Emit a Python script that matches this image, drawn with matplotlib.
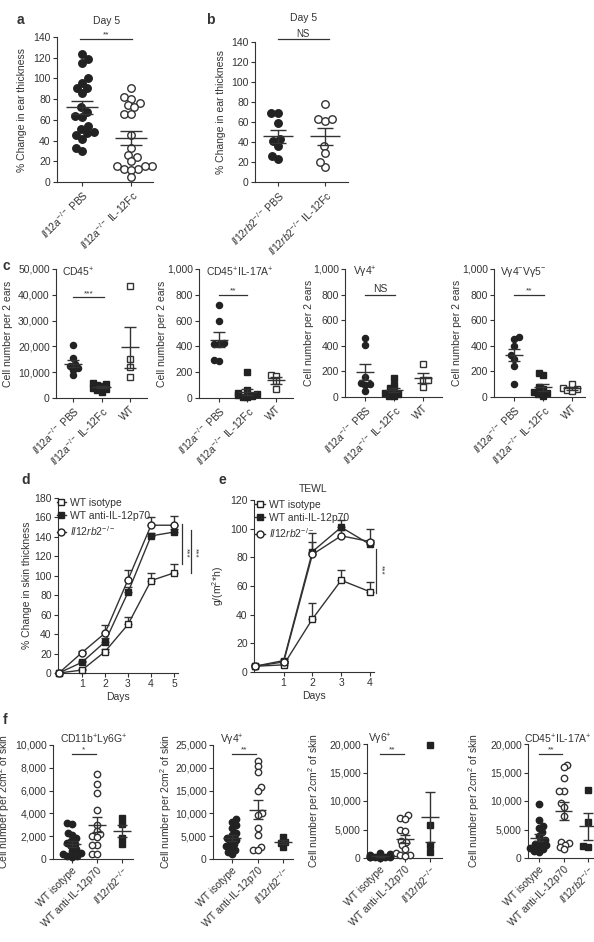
import numpy as np
import matplotlib
matplotlib.use("Agg")
import matplotlib.pyplot as plt
from matplotlib.ticker import StrMethodFormatter

W, H = 594, 942
INK = "#333333"
DOT = "#222222"
FS = 7.5

plt.rcParams["font.family"] = ["Liberation Sans", "DejaVu Sans"]
plt.rcParams["mathtext.fontset"] = "custom"
plt.rcParams["mathtext.rm"] = "Liberation Sans"
plt.rcParams["mathtext.it"] = "Liberation Sans:italic"
plt.rcParams["mathtext.bf"] = "Liberation Sans:bold"
plt.rcParams["text.color"] = INK
plt.rcParams["axes.labelcolor"] = INK
plt.rcParams["font.size"] = FS

# ---------------- data ----------------
# a: % change in ear thickness, day 5
a_labels = [r"$\mathit{Il12a}^{-/-}$ PBS", r"$\mathit{Il12a}^{-/-}$ IL-12Fc"]
a_pbs = [124, 119, 115, 100, 96, 91, 91, 86, 72, 68, 64, 63, 54, 51, 48, 47, 45, 42, 33, 30]
a_fc = [91, 82, 80, 76, 74, 72, 66, 66, 45, 33, 26, 24, 20, 15, 15, 15, 13, 13, 12, 5]

# b
b_labels = [r"$\mathit{Il12rb2}^{-/-}$ PBS", r"$\mathit{Il12rb2}^{-/-}$ IL-12Fc"]
b_pbs = [69, 69, 59, 43, 41, 36, 26, 23]
b_fc = [78, 63, 61, 63, 36, 29, 15, 20]

# c: cell number per 2 ears
c_labels = [r"$\mathit{Il12a}^{-/-}$ PBS", r"$\mathit{Il12a}^{-/-}$ IL-12Fc", "WT"]
c_cd45 = [[20500, 15500, 13000, 12500, 11500, 11000, 9000],
          [6000, 5500, 5000, 4500, 4000, 3500, 3000, 2500],
          [43300, 15000, 12000, 8000]]
c_il17 = [[724, 594, 424, 418, 418, 289, 294],
          [200, 60, 40, 30, 20, 15, 10, 10],
          [175, 170, 130, 70]]
c_vg4 = [[460, 410, 160, 110, 100, 90, 50],
         [150, 95, 70, 50, 30, 20, 10, 5],
         [260, 130, 130, 80]]
c_vg4n5n = [[455, 465, 400, 330, 300, 240, 100],
            [190, 170, 80, 60, 40, 30, 20, 10],
            [100, 70, 60, 55, 50]]

# d: % change in skin thickness over days
d_days = [0, 1, 2, 3, 4, 5]
d_iso = [0, 3, 22, 50, 95, 103]
d_iso_err = [0, 1.5, 3, 8, 8, 9]
d_anti = [0, 11, 32, 83, 141, 145]
d_anti_err = [0, 1.5, 4, 5, 3, 3]
d_rb2 = [0, 21, 41, 96, 152, 152]
d_rb2_err = [0, 2, 8, 10, 8, 9]

# e: TEWL
e_days = [0, 1, 2, 3, 4]
e_iso = [4, 5, 37, 64, 56]
e_iso_err = [1, 1, 11, 7, 6.5]
e_anti = [4, 8, 84, 101, 89]
e_anti_err = [1, 1, 7, 5, 3]
e_rb2 = [4, 7, 82, 95, 91]
e_rb2_err = [1, 1, 15, 4, 9]

leg_labels = ["WT isotype", "WT anti-IL-12p70", r"$\mathit{Il12rb2}^{-/-}$"]

# f: cell number per 2 cm2 of skin
f_labels = ["WT isotype", "WT anti-IL-12p70", r"$\mathit{Il12rb2}^{-/-}$"]
f_cd11b = [[3200, 3100, 2300, 2100, 1800, 1600, 1400, 1300, 1100, 900, 700, 500, 400, 300, 300, 200],
           [7500, 6600, 5800, 4300, 3000, 2500, 2200, 2000, 1900, 1200, 1200, 400, 400],
           [3600, 3100, 1800, 1300]]
f_vg4 = [[8700, 8200, 7500, 6800, 5800, 5200, 4600, 4200, 3800, 3300, 2900, 2500, 2000, 1600, 1200],
         [21500, 20400, 19000, 15800, 15000, 10000, 9600, 6700, 5300, 2700, 2000, 1900],
         [4800, 3800, 3500, 2600]]
f_vg6 = [[900, 700, 500, 400, 300, 300, 200, 200, 100, 100, 100, 50],
         [7500, 7000, 6900, 5000, 4800, 3000, 2800, 2200, 1500, 800, 600, 500, 400],
         [19800, 5800, 2200, 1000]]
f_il17 = [[9400, 6700, 5700, 5200, 4500, 3800, 3200, 2800, 2500, 2200, 2000, 1800, 1500, 1300, 1100],
          [16400, 15900, 14000, 11800, 11800, 9700, 9000, 7300, 2800, 2600, 2300, 2000, 1500],
          [12000, 6300, 2100, 2000]]

# ---------------- helpers ----------------
fig = plt.figure(figsize=(W / 100, H / 100), dpi=100)


def axes_px(l, t, r, b):
    ax = fig.add_axes([l / W, 1 - b / H, (r - l) / W, (b - t) / H])
    for s in ["top", "right"]:
        ax.spines[s].set_visible(False)
    for s in ["left", "bottom"]:
        ax.spines[s].set_color(INK)
        ax.spines[s].set_linewidth(0.8)
    ax.tick_params(colors=INK, labelsize=FS, length=3, width=0.8, pad=1.5)
    ax._box = (l, t, r, b)
    return ax


def ylab(ax, text, xpx):
    # xpx = visual centre of the rotated label; the anchor is its right edge
    l, t, r, b = ax._box
    ax.set_ylabel(text, fontsize=FS)
    ax.yaxis.set_label_coords((xpx + 4.5 - l) / (r - l), 0.5)


def ftext(x, y, s, **kw):
    fig.text(x / W, 1 - y / H, s, **kw)


def swarm(ax, x0, vals, d, maxoff):
    p = ax.transData.transform(np.column_stack([np.full(len(vals), x0), vals]))
    ppu = ax.transData.transform([[1, 0]])[0, 0] - ax.transData.transform([[0, 0]])[0, 0]
    ys = p[:, 1]
    placed = []
    offs = np.zeros(len(vals))
    lim = maxoff * ppu
    for n, i in enumerate(np.argsort(ys)):
        y = ys[i]
        near = [(xo, yo) for xo, yo in placed if abs(yo - y) < d]
        cands = [0.0]
        for xo, yo in near:
            h = np.sqrt(d * d - (yo - y) ** 2)
            cands += [xo + h, xo - h]
        ok = [c for c in cands
              if all((c - xo) ** 2 + (y - yo) ** 2 >= d * d - 1e-6 for xo, yo in near)]
        sgn = 1 if n % 2 else -1
        best = min(ok, key=lambda c: (round(abs(c), 2), sgn * c))
        best = float(np.clip(best, -lim, lim))
        offs[i] = best
        placed.append((best, y))
    return offs / ppu


def dotplot(ax, groups, styles, ms, mean_w=0.65, cap_w=0.4, pack=0.85, maxoff=0.4):
    ppu = ax.transData.transform([[1, 0]])[0, 0] - ax.transData.transform([[0, 0]])[0, 0]
    for i, (vals, st) in enumerate(zip(groups, styles)):
        v = np.asarray(vals, float)
        off = swarm(ax, i, v, ms / 0.72 * pack, maxoff)
        if st == "fc":
            kw = dict(marker="o", mfc=DOT, mec=DOT)
        elif st == "oc":
            kw = dict(marker="o", mfc="white", mec=INK)
        elif st == "fs":
            kw = dict(marker="s", mfc=DOT, mec=DOT)
        else:
            kw = dict(marker="s", mfc="white", mec=INK)
        ax.plot(i + off, v, ls="none", ms=ms, mew=1.0, clip_on=False, zorder=3, **kw)
        m = v.mean()
        sem = v.std(ddof=1) / np.sqrt(len(v))
        ax.hlines(m, i - mean_w / 2, i + mean_w / 2, color=INK, lw=1.0, zorder=5)
        ax.errorbar(i, m, yerr=sem, fmt="none", ecolor=INK, elinewidth=1.0,
                    capsize=cap_w / 2 * ppu * 0.72, capthick=1.0, zorder=5)


def bracket(ax, x1, x2, y, s, fs=7):
    ax.plot([x1, x2], [y, y], color=INK, lw=0.9, clip_on=False)
    ax.annotate(s, ((x1 + x2) / 2, y), xytext=(0, 0.3), textcoords="offset points",
                ha="center", va="bottom", fontsize=fs, annotation_clip=False)


def cat_axes(box, c0, sp, labels, ylim, yticks, fmt=None):
    l, t, r, b = box
    ax = axes_px(l, t, r, b)
    ax.set_xlim((l - c0) / sp, (r - c0) / sp)
    ax.set_ylim(*ylim)
    ax.set_yticks(yticks)
    if fmt:
        ax.yaxis.set_major_formatter(StrMethodFormatter(fmt))
    ax.set_xticks(range(len(labels)))
    ax.set_xticklabels(labels, rotation=45, ha="right", rotation_mode="anchor", fontsize=FS)
    return ax


# ---------------- panel a ----------------
ax = cat_axes((57, 37, 153, 182), 82, 49, a_labels, (0, 140), range(0, 141, 20))
dotplot(ax, [a_pbs, a_fc], ["fc", "oc"], 5.4, mean_w=0.65, cap_w=0.43, pack=0.95, maxoff=0.5)
bracket(ax, -0.05, 1.02, 138, "**", fs=6)
ylab(ax, "% Change in ear thickness", 23)
ftext(107, 21, "Day 5", ha="center", va="center")

# ---------------- panel b ----------------
ax = cat_axes((255, 42, 348, 182), 278, 47, b_labels, (0, 140), range(0, 141, 20))
dotplot(ax, [b_pbs, b_fc], ["fc", "oc"], 5.4, mean_w=0.65, cap_w=0.36, pack=0.95, maxoff=0.5)
bracket(ax, 0.0, 1.08, 143, "NS")
ylab(ax, "% Change in ear thickness", 221)
ftext(304, 18, "Day 5", ha="center", va="center")

# ---------------- panel c ----------------
c_specs = [
    ((56, 269, 147, 398), 73, 28.5, c_cd45, (0, 50000), range(0, 50001, 10000), "CD45$^{+}$", 62, "***", 39000, 1.1, 9),
    ((199, 269, 293, 398), 219, 28.5, c_il17, (0, 1000), range(0, 1001, 200), "CD45$^{+}$IL-17A$^{+}$", 206, "**", 800, 1.0, 163),
    ((345, 269, 442, 397), 365, 29, c_vg4, (0, 1000), range(0, 1001, 200), "Vγ4$^{+}$", 353, "NS", 800, 1.05, 310),
    ((494, 269, 585, 397), 514, 29, c_vg4n5n, (0, 1000), range(0, 1001, 200), "Vγ4$^{-}$Vγ5$^{-}$", 500, "**", 800, 1.05, 458),
]
for box, c0, sp, groups, ylim, yt, title, tx, sig, sy, sx2, lx in c_specs:
    ax = cat_axes(box, c0, sp, c_labels, ylim, yt, "{x:,.0f}")
    dotplot(ax, groups, ["fc", "fs", "os"], 4.4, mean_w=0.65, cap_w=0.4, pack=0.8, maxoff=0.35)
    bracket(ax, 0.0, sx2, sy, sig, fs=FS if sig == "NS" else 6)
    ylab(ax, "Cell number per 2 ears", lx)
    ftext(tx, box[1] + 3, title, ha="left", va="center")

# ---------------- panel d ----------------
ax = axes_px(58, 498, 178, 673)
ax.set_xlim(-0.04, 5.17)
ax.set_ylim(0, 180)
ax.set_yticks(range(0, 181, 20))
ax.set_xticks([1, 2, 3, 4, 5])
series = [(d_iso, d_iso_err, "s", "white"), (d_anti, d_anti_err, "s", DOT), (d_rb2, d_rb2_err, "o", "white")]
for (y, err, mk, fc), lab in zip(series, leg_labels):
    ax.errorbar(d_days, y, yerr=[np.zeros(len(err)), err], color=INK, lw=1.0,
                marker=mk, ms=5, mfc=fc, mec=DOT, mew=1.0, capsize=3, capthick=1.0,
                elinewidth=1.0, label=lab, clip_on=False, zorder=3)
h, l = ax.get_legend_handles_labels()
ax.legend([x[0] for x in h], l, loc="upper left", bbox_to_anchor=(-0.01, 1.0), frameon=False,
          fontsize=FS, handlelength=0.9, handletextpad=0.4, labelspacing=0.3, borderaxespad=0, borderpad=0)
ax.plot([5.33, 5.33], [153, 112], color=INK, lw=0.9, clip_on=False)
ax.plot([5.72, 5.72], [147, 103], color=INK, lw=0.9, clip_on=False)
ax.text(5.38, 124, "***", rotation=270, ha="left", va="center", fontsize=6)
ax.text(5.77, 124, "***", rotation=270, ha="left", va="center", fontsize=6)
ax.set_xlabel("Days", fontsize=FS, labelpad=2)
ylab(ax, "% Change in skin thickness", 28)
ftext(26, 480, "d", fontsize=10, fontweight="bold", ha="center", va="center")

# ---------------- panel e ----------------
ax = axes_px(254, 500, 374, 672)
ax.set_xlim(-0.03, 4.14)
ax.set_ylim(0, 120)
ax.set_yticks(range(0, 121, 20))
ax.set_xticks([1, 2, 3, 4])
series = [(e_iso, e_iso_err, "s", "white"), (e_anti, e_anti_err, "s", DOT), (e_rb2, e_rb2_err, "o", "white")]
for (y, err, mk, fc), lab in zip(series, leg_labels):
    ax.errorbar(e_days, y, yerr=[np.zeros(len(err)), err], color=INK, lw=1.0,
                marker=mk, ms=5, mfc=fc, mec=DOT, mew=1.0, capsize=3, capthick=1.0,
                elinewidth=1.0, label=lab, clip_on=False, zorder=3)
h, l = ax.get_legend_handles_labels()
ax.legend([x[0] for x in h], l, loc="upper left", bbox_to_anchor=(0.01, 1.0), frameon=False,
          fontsize=FS, handlelength=0.9, handletextpad=0.4, labelspacing=0.3, borderaxespad=0, borderpad=0)
ax.plot([4.21, 4.21], [86, 55], color=INK, lw=0.9, clip_on=False)
ax.text(4.26, 71, "***", rotation=270, ha="left", va="center", fontsize=6)
ax.set_xlabel("Days", fontsize=FS, labelpad=2)
ylab(ax, "g/(m$^{2}$*h)", 222)
ftext(313, 489, "TEWL", ha="center", va="center")
ftext(222, 480, "e", fontsize=10, fontweight="bold", ha="center", va="center")

# ---------------- panel f ----------------
f_specs = [
    ((53, 745, 133, 859), 72, 25, f_cd11b, (0, 10000), range(0, 10001, 2000), "CD11b$^{+}$Ly6G$^{+}$", 60, "*", 9200, 8),
    ((213, 745, 293, 859), 232, 25.5, f_vg4, (0, 25000), range(0, 25001, 5000), "Vγ4$^{+}$", 220, "**", 23000, 170),
    ((367, 744, 442, 858), 380, 25, f_vg6, (0, 20000), range(0, 20001, 5000), "Vγ6$^{+}$", 368, "**", 18250, 318),
    ((528, 744, 594, 858), 539, 24.5, f_il17, (0, 20000), range(0, 20001, 5000), "CD45$^{+}$IL-17A$^{+}$", 524, "**", 18250, 477),
]
for box, c0, sp, groups, ylim, yt, title, tx, sig, sy, lx in f_specs:
    ax = cat_axes(box, c0, sp, f_labels, ylim, yt, "{x:,.0f}")
    dotplot(ax, groups, ["fc", "oc", "fs"], 4.6, mean_w=0.7, cap_w=0.4, pack=0.75, maxoff=0.4)
    bracket(ax, 0.0, 0.95, sy, sig, fs=6)
    ylab(ax, "Cell number per 2cm$^{2}$ of skin", lx)
    ftext(tx, box[1] - 5, title, ha="left", va="center")

# panel letters
ftext(20, 20, "a", fontsize=10, fontweight="bold", ha="center", va="center")
ftext(210, 20, "b", fontsize=10, fontweight="bold", ha="center", va="center")
ftext(6, 266, "c", fontsize=10, fontweight="bold", ha="center", va="center")
ftext(5, 720, "f", fontsize=10, fontweight="bold", ha="center", va="center")

fig.savefig("out.png", dpi=100)
